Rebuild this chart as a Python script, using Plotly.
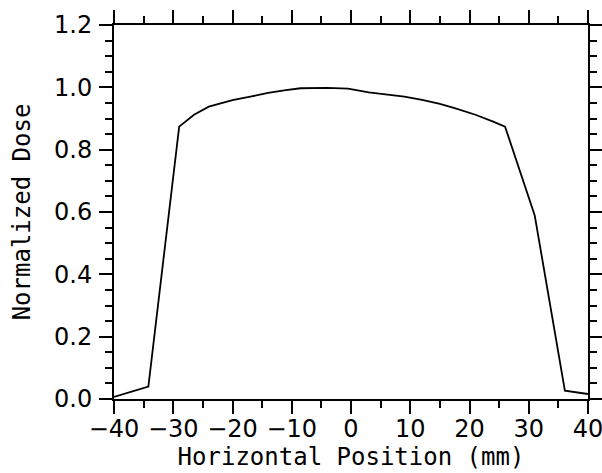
import plotly.graph_objects as go

# Horizontal position (mm) and normalized dose
position_mm = [-40, -34.2, -29.0, -26.5, -24.0, -20.0, -17.0, -14.0, -11.0, -8.5,
               -4.0, -0.5, 3.0, 6.0, 9.0, 12.0, 15.0, 17.5, 21.0, 24.0,
               26.0, 31.0, 36.1, 40]
dose = [0.007, 0.040, 0.874, 0.912, 0.938, 0.959, 0.970, 0.982, 0.991, 0.997,
        0.998, 0.996, 0.984, 0.977, 0.970, 0.960, 0.947, 0.933, 0.912, 0.890,
        0.874, 0.590, 0.027, 0.016]

x_ticks = [-40, -30, -20, -10, 0, 10, 20, 30, 40]
y_ticks = [0.0, 0.2, 0.4, 0.6, 0.8, 1.0, 1.2]

TITLE_FONT = "DejaVu Sans Mono"
TICK_FONT = "DejaVu Sans"

fig = go.Figure()
fig.add_trace(go.Scatter(x=position_mm, y=dose, mode="lines",
                         line=dict(color="black", width=1.8), showlegend=False))

axis_common = dict(
    showline=True, linecolor="black", linewidth=2, mirror="ticks",
    ticks="outside", ticklen=13, tickwidth=2, tickcolor="black",
    showgrid=False, zeroline=False, automargin=False,
    ticklabeloverflow="allow",
    tickfont=dict(family=TICK_FONT, size=24, color="black"),
)

fig.update_xaxes(**axis_common, range=[-40, 40], tickvals=x_ticks,
                 minor=dict(dtick=5, tick0=0, ticks="outside", ticklen=7,
                            tickwidth=2, tickcolor="black", showgrid=False),
                 title=dict(text="Horizontal Position (mm)",
                            font=dict(family=TITLE_FONT, size=24, color="black"),
                            standoff=0),
                 ticklabelstandoff=-6)
fig.update_yaxes(**axis_common, range=[0, 1.2], tickvals=y_ticks, tickformat=".1f",
                 minor=dict(dtick=0.05, tick0=0, ticks="outside", ticklen=7,
                            tickwidth=2, tickcolor="black", showgrid=False),
                 title=dict(text="Normalized Dose",
                            font=dict(family=TITLE_FONT, size=24, color="black"),
                            standoff=17),
                 ticklabelstandoff=2)

fig.update_layout(
    width=602, height=473,
    margin=dict(l=114, r=14, t=25, b=74),
    paper_bgcolor="white", plot_bgcolor="white",
)

fig.write_html("out.html", config={"displayModeBar": False},
               post_script="document.body.style.margin='0';")
